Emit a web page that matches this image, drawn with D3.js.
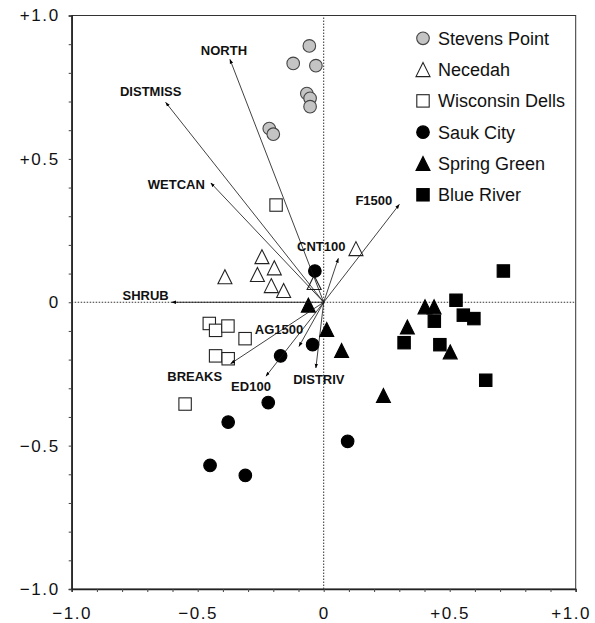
<!DOCTYPE html>
<html>
<head>
<meta charset="utf-8">
<script src="https://cdn.jsdelivr.net/npm/d3@7"></script>
<style>
  body { margin: 0; background: #fff; }
  svg { font-family: "Liberation Sans", Arial, sans-serif; }
  .tick text { font-size: 17px; letter-spacing: 1.6px; fill: #111; }
  .vec-label { font-size: 13px; font-weight: bold; fill: #111; }
  .legend text { font-size: 18px; fill: #111; }
</style>
</head>
<body>
<div id="chart"></div>
<script>
// site scores (axis 1, axis 2)
var stevensPoint = [[-0.057,0.894],[-0.121,0.833],[-0.031,0.825],[-0.067,0.728],[-0.054,0.711],[-0.054,0.682],[-0.216,0.606],[-0.200,0.586]];
var necedah = [[-0.392,0.089],[-0.245,0.159],[-0.263,0.097],[-0.196,0.120],[-0.208,0.058],[-0.159,0.041],[-0.038,0.069],[0.128,0.187]];
var wiscDells = [[-0.454,-0.074],[-0.429,-0.098],[-0.380,-0.083],[-0.312,-0.127],[-0.429,-0.187],[-0.379,-0.197],[-0.550,-0.355],[-0.189,0.339]];
var saukCity = [[-0.035,0.109],[-0.171,-0.187],[-0.044,-0.148],[-0.220,-0.350],[-0.379,-0.418],[-0.451,-0.569],[-0.311,-0.604],[0.095,-0.485]];
var springGreen = [[-0.061,-0.010],[0.012,-0.095],[0.071,-0.168],[0.332,-0.086],[0.402,-0.016],[0.438,-0.016],[0.502,-0.173],[0.237,-0.325]];
var blueRiver = [[0.713,0.109],[0.525,0.007],[0.554,-0.045],[0.596,-0.057],[0.439,-0.066],[0.461,-0.148],[0.319,-0.141],[0.643,-0.272]];

// environmental vectors
var vecNames = ['NORTH','DISTMISS','WETCAN','SHRUB','F1500','CNT100','AG1500','BREAKS','ED100','DISTRIV'];
var vecX = [-0.372,-0.627,-0.448,-0.603,0.300,0.058,-0.098,-0.369,-0.229,-0.031];
var vecY = [0.847,0.697,0.416,0,0.341,0.153,-0.154,-0.214,-0.258,-0.229];

var tickMajor = [-1,-0.5,0,0.5,1];

var groups = [
  {name:'Stevens Point', data:stevensPoint, shape:'circle', fill:'#c4c4c4', stroke:'#444'},
  {name:'Necedah', data:necedah, shape:'triangle', fill:'#fff', stroke:'#222'},
  {name:'Wisconsin Dells', data:wiscDells, shape:'square', fill:'#fff', stroke:'#222'},
  {name:'Sauk City', data:saukCity, shape:'circle', fill:'#000', stroke:'#000'},
  {name:'Spring Green', data:springGreen, shape:'triangle', fill:'#000', stroke:'#000'},
  {name:'Blue River', data:blueRiver, shape:'square', fill:'#000', stroke:'#000'}
];

// label placement relative to arrow tip (px)
var labelPos = {
  NORTH:{dx:-6,dy:-4,a:'middle'}, DISTMISS:{dx:-15,dy:-6,a:'middle'},
  WETCAN:{dx:-6,dy:6,a:'end'}, SHRUB:{dx:-3,dy:-2,a:'end'},
  F1500:{dx:-7,dy:1,a:'end'}, CNT100:{dx:-17,dy:-7,a:'middle'},
  AG1500:{dx:-20,dy:-12,a:'middle'}, BREAKS:{dx:-36,dy:17,a:'middle'},
  ED100:{dx:-15,dy:15,a:'middle'}, DISTRIV:{dx:3,dy:16,a:'middle'}
};

const W = 595, H = 623;
const x = d3.scaleLinear().domain([-1,1]).range([71.7,575.7]);
const y = d3.scaleLinear().domain([-1,1]).range([589,15.5]);

const svg = d3.select('#chart').append('svg').attr('width',W).attr('height',H);

svg.append('defs').append('marker')
  .attr('id','head').attr('viewBox','0 0 10 10').attr('refX',9).attr('refY',5)
  .attr('markerWidth',6).attr('markerHeight',6).attr('orient','auto')
  .append('path').attr('d','M0,1.5L10,5L0,8.5Z').attr('fill','#000');

function fmt(v){
  if (!tickMajor.some(t=>Math.abs(t-v)<1e-6)) return '';
  if (Math.abs(v)<1e-6) return '0';
  return (v>0?'+':'\u2212') + Math.abs(v).toFixed(1);
}
const ticks = d3.range(-10,11).map(i=>i/10);

// frame
svg.append('rect').attr('x',x(-1)).attr('y',y(1)).attr('width',x(1)-x(-1)).attr('height',y(-1)-y(1))
  .attr('fill','none').attr('stroke','#333').attr('stroke-width',1);

// zero lines
svg.append('line').attr('x1',x(-1)).attr('x2',x(1)).attr('y1',y(0)).attr('y2',y(0))
  .attr('stroke','#333').attr('stroke-dasharray','1.5,1.5');
svg.append('line').attr('x1',x(0)).attr('x2',x(0)).attr('y1',y(-1)).attr('y2',y(1))
  .attr('stroke','#333').attr('stroke-dasharray','1.5,1.5');

svg.append('g').attr('transform','translate(0,'+y(-1)+')')
  .call(d3.axisBottom(x).tickValues(ticks).tickFormat(fmt).tickSize(3).tickPadding(15))
  .call(g=>g.select('.domain').attr('stroke','#222').attr('stroke-width',1.5))
  .call(g=>g.selectAll('.tick line').attr('stroke','#444'))
  .call(g=>g.selectAll('.tick text').filter(d=>d===1).attr('dx',-5));
svg.append('g').attr('transform','translate('+x(-1)+',0)')
  .call(d3.axisLeft(y).tickValues(ticks).tickFormat(fmt).tickSize(3).tickPadding(9))
  .call(g=>g.select('.domain').attr('stroke','#222').attr('stroke-width',1.5))
  .call(g=>g.selectAll('.tick line').attr('stroke','#444'));
svg.selectAll('.tick text').attr('font-family',null).attr('font-size',null);

function marker(sel, shape){
  if (shape==='circle') return sel.append('circle').attr('r',6.3);
  if (shape==='square') return sel.append('rect').attr('x',-6.2).attr('y',-6.2).attr('width',12.4).attr('height',12.4);
  return sel.append('path').attr('d','M0,-7L7,7L-7,7Z');
}

groups.forEach(grp=>{
  grp.data.forEach(p=>{
    const g = svg.append('g').attr('transform','translate('+x(p[0])+','+y(p[1])+')');
    marker(g, grp.shape).attr('fill',grp.fill).attr('stroke',grp.stroke).attr('stroke-width',1.1);
  });
});

// vectors
const vg = svg.append('g');
vecNames.forEach((n,i)=>{
  vg.append('line').attr('x1',x(0)).attr('y1',y(0)).attr('x2',x(vecX[i])).attr('y2',y(vecY[i]))
    .attr('stroke','#111').attr('stroke-width',0.8).attr('marker-end','url(#head)');
  const lp = labelPos[n];
  vg.append('text').attr('class','vec-label')
    .attr('x',x(vecX[i])+lp.dx).attr('y',y(vecY[i])+lp.dy)
    .attr('text-anchor',lp.a).text(n);
});

// legend
const lg = svg.append('g').attr('class','legend');
groups.forEach((grp,i)=>{
  const cy = 38.3 + i*31.3;
  const g = lg.append('g').attr('transform','translate(423,'+cy+')');
  marker(g, grp.shape).attr('fill',grp.fill).attr('stroke',grp.stroke).attr('stroke-width',1.1);
  lg.append('text').attr('x',438).attr('y',cy).attr('dy','0.36em').text(grp.name);
});
</script>
</body>
</html>
